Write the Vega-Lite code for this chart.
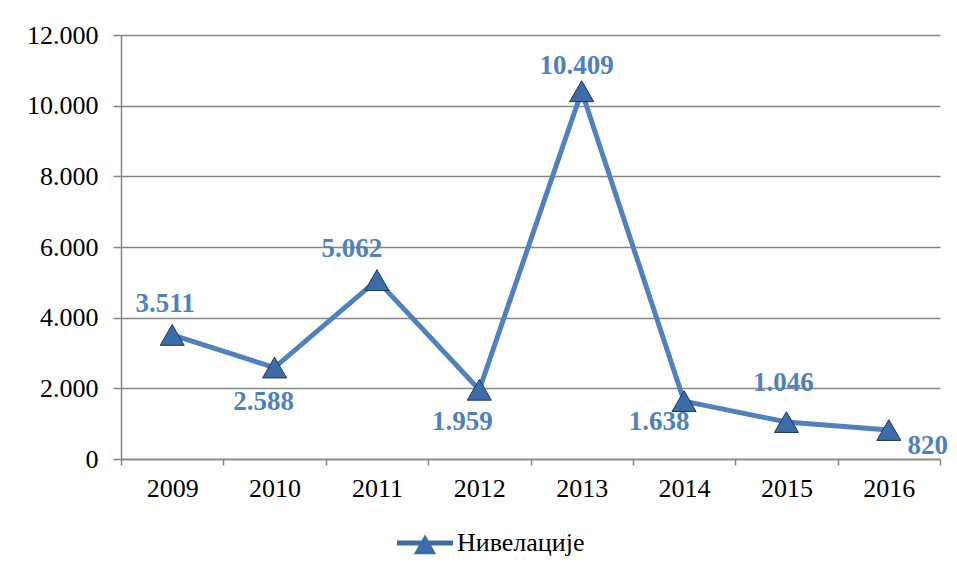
{
  "$schema": "https://vega.github.io/schema/vega-lite/v6.json",
  "width": 819,
  "height": 424,
  "autosize": {"type": "none"},
  "padding": {"left": 121, "top": 35, "right": 17, "bottom": 119},
  "background": "white",
  "config": {
    "view": {"stroke": null},
    "font": "Liberation Serif",
    "locale": {"number": {"decimal": ",", "thousands": ".", "grouping": [3], "currency": ["", ""]}},
    "axis": {"labelFont": "Liberation Serif", "labelFontSize": 26, "labelColor": "#000000", "domainColor": "#868686", "tickColor": "#868686", "domainWidth": 1.5, "tickWidth": 1.5, "gridColor": "#868686", "gridWidth": 1.5, "title": null},
    "legend": {"padding": 0},
    "text": {"font": "Liberation Serif", "fontSize": 27, "fontWeight": "bold", "color": "#4F81BD", "baseline": "middle", "align": "center"}
  },
  "data": {"values": [
    {"year": "2009", "value": 3511},
    {"year": "2010", "value": 2588},
    {"year": "2011", "value": 5062},
    {"year": "2012", "value": 1959},
    {"year": "2013", "value": 10409},
    {"year": "2014", "value": 1638},
    {"year": "2015", "value": 1046},
    {"year": "2016", "value": 820}
  ]},
  "encoding": {
    "x": {"field": "year", "type": "nominal", "bandPosition": 0.5,
      "scale": {"type": "band", "paddingInner": 0, "paddingOuter": 0},
      "axis": {"tickBand": "extent", "labelAngle": 0, "tickSize": 6, "labelPadding": 10, "grid": false}},
    "y": {"field": "value", "type": "quantitative",
      "scale": {"domain": [0, 12000], "nice": false},
      "axis": {"values": [0, 2000, 4000, 6000, 8000, 10000, 12000], "format": ",.0f", "grid": true, "tickSize": 8, "labelPadding": 15}}
  },
  "layer": [
    {"mark": {"type": "line", "color": "#4F81BD", "strokeWidth": 5}},
    {"mark": {"type": "point", "shape": "triangle-up", "filled": true, "size": 576, "opacity": 1, "stroke": "#1F3550", "strokeWidth": 1},
     "encoding": {"color": {"datum": "Нивелације", "type": "nominal",
        "scale": {"range": ["#3C6DA8"]},
        "legend": {"title": null, "orient": "none", "legendX": 276, "legendY": 480,
          "symbolType": "M-1,-0.09L1,-0.09L1,0.09L-1,0.09Z M0,-0.3L0.4,0.4L-0.4,0.4Z",
          "symbolSize": 3136, "symbolStrokeWidth": 0, "labelFont": "Liberation Serif", "labelFontSize": 26, "labelColor": "#000000", "labelOffset": 4}}}},
    {"transform": [{"filter": {"field": "year", "equal": "2009"}}],
     "mark": {"type": "text", "dx": -7, "dy": -31},
     "encoding": {"text": {"field": "value", "type": "quantitative", "format": ",.0f"}}},
    {"transform": [{"filter": {"field": "year", "equal": "2010"}}],
     "mark": {"type": "text", "dx": -11, "dy": 34},
     "encoding": {"text": {"field": "value", "type": "quantitative", "format": ",.0f"}}},
    {"transform": [{"filter": {"field": "year", "equal": "2011"}}],
     "mark": {"type": "text", "dx": -25, "dy": -31},
     "encoding": {"text": {"field": "value", "type": "quantitative", "format": ",.0f"}}},
    {"transform": [{"filter": {"field": "year", "equal": "2012"}}],
     "mark": {"type": "text", "dx": -17, "dy": 32},
     "encoding": {"text": {"field": "value", "type": "quantitative", "format": ",.0f"}}},
    {"transform": [{"filter": {"field": "year", "equal": "2013"}}],
     "mark": {"type": "text", "dx": -5, "dy": -25},
     "encoding": {"text": {"field": "value", "type": "quantitative", "format": ",.0f"}}},
    {"transform": [{"filter": {"field": "year", "equal": "2014"}}],
     "mark": {"type": "text", "dx": -25, "dy": 21},
     "encoding": {"text": {"field": "value", "type": "quantitative", "format": ",.0f"}}},
    {"transform": [{"filter": {"field": "year", "equal": "2015"}}],
     "mark": {"type": "text", "dx": -3, "dy": -39},
     "encoding": {"text": {"field": "value", "type": "quantitative", "format": ",.0f"}}},
    {"transform": [{"filter": {"field": "year", "equal": "2016"}}],
     "mark": {"type": "text", "dx": 39, "dy": 16},
     "encoding": {"text": {"field": "value", "type": "quantitative", "format": ",.0f"}}}
  ]
}
